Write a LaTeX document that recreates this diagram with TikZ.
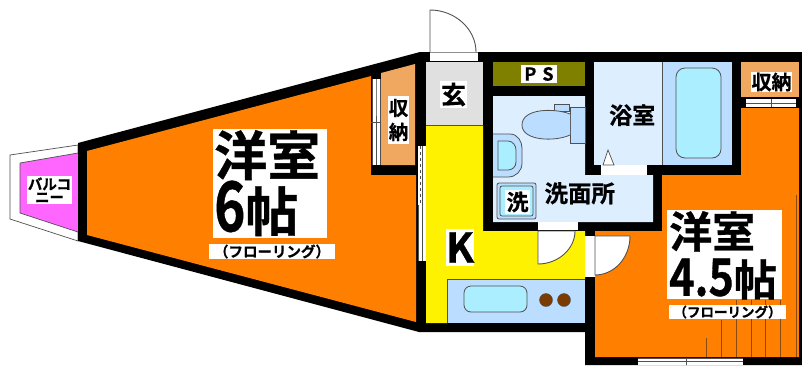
\documentclass[tikz,border=0pt]{standalone}
\usepackage{fontspec}
\setmainfont[FakeBold=0.7]{Noto Sans CJK JP Bold}
\definecolor{roomorange}{HTML}{FF8000}
\definecolor{closet}{HTML}{F0A860}
\definecolor{balc}{HTML}{FF66FF}
\definecolor{olive2}{HTML}{808000}
\definecolor{lightb}{HTML}{DDEEFF}
\definecolor{midb}{HTML}{BBDDFF}
\definecolor{cyanb}{HTML}{AAEEFF}
\definecolor{entry}{HTML}{E0E0E0}
\definecolor{burner}{HTML}{7A3C00}
\definecolor{lineg}{HTML}{505050}
\definecolor{stairc}{HTML}{8A4A10}
\tikzset{
  lab/.style={fill=white,inner sep=0pt,outer sep=0pt,text=black,align=center},
  fix/.style={line width=.8pt,draw=lineg},
  thin1/.style={line width=.7pt,draw=lineg},
  doorw/.style={fill=white,draw=lineg,line width=.9pt},
  stair/.style={line width=.9pt,draw=stairc}
}
\begin{document}
\begin{tikzpicture}[x=1pt,y=-1pt]
\useasboundingbox (0,0) rectangle (802,365);
\fill[white] (0,0) rectangle (802,365);
% balcony
\filldraw[fill=white,thin1] (10,155) -- (78,145) -- (78,241) -- (10,219) -- cycle;
\fill[balc] (20,163) -- (78,153) -- (78,232) -- (20,213) -- cycle;
\draw[thin1] (20,163) -- (78,153) (20,163) -- (20,213) -- (78,232);
% building silhouette
\fill[black] (78,143) -- (420,52) -- (802,52) -- (802,365) -- (585,365) -- (585,332) -- (419,332) -- (78,241) -- cycle;
% rooms
\fill[roomorange] (87,151) -- (371,76) -- (371,175) -- (416,175) -- (416,322) -- (87,235) -- cycle;
\fill[closet] (381,73) -- (415,64) -- (415,165) -- (381,165) -- cycle;
\fill[entry] (426,62) rectangle (483,125);
\fill[yellow] (426,125) -- (483,125) -- (483,231) -- (585,231) -- (585,279) -- (447,279) -- (447,323) -- (426,323) -- cycle;
\draw[thin1] (426,125) -- (483,125);
\fill[midb] (447,279) rectangle (585,323);
\draw[thin1] (447,323) -- (447,279) -- (585,279);
\fill[olive2] (493,62) rectangle (585,86);
\fill[lightb] (493,96) -- (585,96) -- (585,175) -- (653,175) -- (653,222) -- (493,222) -- cycle;
\fill[lightb] (594,62) rectangle (662,165);
\fill[midb] (662,62) rectangle (732,165);
\draw[thin1] (662,62) -- (662,165);
\fill[closet] (741,62) rectangle (799,97);
\fill[roomorange] (595,231) -- (662,231) -- (662,175) -- (741,175) -- (741,108) -- (799,108) -- (799,357) -- (595,357) -- cycle;
% fixtures
\draw[fix,fill=cyanb,rounded corners=9pt] (676,68) rectangle (721,158);
\draw[fix,fill=cyanb,rounded corners=7pt] (464,286) rectangle (527,312);
\filldraw[fill=burner,draw=lineg,line width=.4pt] (546,300) circle (6.5);
\filldraw[fill=burner,draw=lineg,line width=.4pt] (564,300) circle (6.5);
\draw[fix,fill=midb] (570,107) rectangle (585,143);
\draw[fix,fill=midb] (554,104) rectangle (569,111);
\draw[fix,fill=midb] (570,114) .. controls (555,108) and (522,108) .. (522,125) .. controls (522,141) and (555,142) .. (570,135);
\draw[fix,fill=midb] (493,134) -- (510,134) .. controls (518,134) and (522,142) .. (522,148) -- (522,163) .. controls (522,171) and (516,177) .. (508,177) -- (493,177);
\draw[fix,fill=cyanb] (498,141) -- (508,141) .. controls (513,141) and (516,146) .. (516,150) -- (516,162) .. controls (516,167) and (512,170) .. (508,170) -- (498,170) -- cycle;
\draw[fix,fill=midb,rounded corners=2pt] (497,183) rectangle (536,219);
\draw[fix,fill=cyanb,rounded corners=2pt] (500,186) rectangle (533,216);
% windows and door openings
\fill[white] (430,52.5) rectangle (478,61);
\draw[line width=1pt,draw=gray] (430,52.5) -- (478,52.5);
\fill[white] (601,165) rectangle (647,175);
\draw[thin1,fill=white] (608,150) -- (603,165) -- (614,165) -- cycle;
\fill[white] (538,222) rectangle (578,230);
\fill[white] (585,236) rectangle (595,277);
% closet sliding window
\fill[white] (372,79) rectangle (380,165);
\draw[line width=1pt,draw=gray] (376,79) -- (376,128);
\draw[thin1] (372,79) -- (372,165) (380,79) -- (380,165) (376,128) -- (376,165) (371,122) -- (381,122) (376,116) -- (376,128);
\fill[white] (746,99) rectangle (796,107);
\draw[thin1] (746,103) -- (796,103) (771,99) -- (771,107);
% kitchen wall window
\fill[white] (418,146) rectangle (426,261);
\draw[thin1,dashed] (420,146) -- (420,205);
\draw[thin1] (418,205) -- (418,261) (422,146) -- (422,261);
% bottom window
\fill[white] (638,358) rectangle (743,365);
\draw[thin1] (638,358) -- (743,358) (638,361) -- (743,361) (686,358) -- (686,365);
% doors
\filldraw[doorw] (430,52) -- (430,10) .. controls (455,10) and (476,29) .. (476,52);
\filldraw[doorw] (538,231) -- (538,264) .. controls (558,264) and (575,249) .. (575,231) -- cycle;
\filldraw[doorw] (595,236) -- (595,275) .. controls (614,275) and (630,258) .. (630,236) -- cycle;
% stairs and right line
\draw[stair] (796,195) -- (796,357);
\draw[stair] (706,338) -- (706,357) (721,320) -- (721,357) (736,300) -- (736,357) (751,300) -- (751,357) (765,300) -- (765,357) (780,300) -- (780,357);
% labels
\node[lab,anchor=north west,minimum width=45pt,minimum height=28pt,font=\fontsize{14.5}{14}\selectfont] (balconyL) at (27,176) {バルコ\\[-1pt]ニー};
\node[lab,anchor=north west,minimum width=114pt,minimum height=109pt] (room6box) at (213,129) {};
\node[anchor=north west,inner sep=0pt,align=left,font=\fontsize{53}{56}\selectfont] (room6) at (214,130) {洋室\\\scalebox{1}[1.3]{6}帖};
\node[lab,anchor=north west,minimum width=126pt,minimum height=15pt,font=\fontsize{14.5}{14}\selectfont] (floor6) at (209,244) {（フローリング）};
\node[lab,anchor=north west,minimum width=21pt,minimum height=48pt,font=\fontsize{19.5}{24}\selectfont] (closetL) at (388,96) {収\\納};
\node[lab,anchor=north west,minimum width=27pt,minimum height=27pt,font=\fontsize{25}{25}\selectfont] (genkan) at (440,81) {玄};
\node[lab,anchor=north west,minimum width=36pt,minimum height=18pt,font=\fontsize{18}{18}\selectfont] (psL) at (521,65) {P\,\,S};
\node[fill=lightb,inner sep=0pt,anchor=north west,minimum width=48pt,minimum height=24pt,font=\fontsize{23}{23}\selectfont] (bathL) at (608,103) {浴室};
\node[lab,anchor=north west,minimum width=41pt,minimum height=20pt,font=\fontsize{20}{20}\selectfont] (closet2L) at (751,72) {収納};
\node[fill=lightb,inner sep=0pt,anchor=north west,minimum width=71pt,minimum height=22pt,font=\fontsize{23.5}{23}\selectfont] (washL) at (544,182) {洗面所};
\node[lab,anchor=north west,minimum width=25pt,minimum height=24pt,font=\fontsize{22}{22}\selectfont] (wmL) at (505,190) {洗};
\node[lab,anchor=north west,minimum width=27pt,minimum height=37pt,font=\fontsize{41}{37}\selectfont] (kL) at (446,229) {K};
\node[lab,anchor=north west,minimum width=115pt,minimum height=89pt] (room45box) at (667,210) {};
\node[anchor=north west,inner sep=0pt,align=left,font=\fontsize{43}{48}\selectfont] (room45) at (669,211) {洋室\\\scalebox{1}[1.2]{4.5}帖};
\node[lab,anchor=north west,minimum width=117pt,minimum height=14pt,font=\fontsize{13.5}{13}\selectfont] (floor45) at (669,305) {（フローリング）};
\end{tikzpicture}
\end{document}
